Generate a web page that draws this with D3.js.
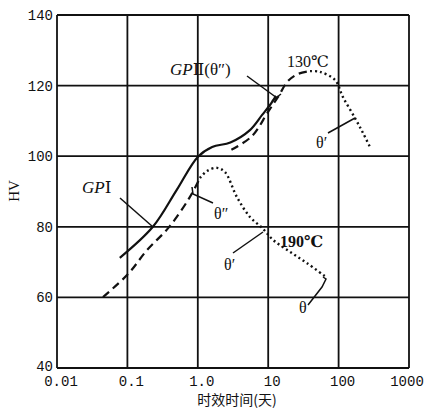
<!DOCTYPE html>
<html><head><meta charset="utf-8">
<script src="https://cdn.jsdelivr.net/npm/d3@7"></script>
<style>
body{margin:0;background:#fff;}
svg{display:block;}
</style></head>
<body>
<svg id="c" width="428" height="409"></svg>
<script>
// ---- data ----
const xTicks = [0.01, 0.1, 1, 10, 100, 1000];
const xTickLabels = ["0.01", "0.1", "1.0", "10", "100", "1000"];
const yTicks = [40, 60, 80, 100, 120, 140];
const yTickLabels = ["40", "60", "80", "100", "120", "140"];

// 130°C, GP I zone (solid)
const gp1_130 = [[0.078,71.2],[0.23,80],[0.5,90.4],[1.0,99.8],[1.6,102.6],[2.9,103.9],[5.5,107.4],[8.2,111.7],[10.6,114.5],[12.9,117.1]];
// 130°C, GP II (θ″) zone (dashed)
const gp2_130 = [[3.0,101.8],[5.9,105.7],[9.9,112.5],[13.8,116.8],[19.1,121.3],[26.5,123.3],[39.3,124.1]];
// 130°C, θ′ zone (dotted)
const th1_130 = [[39.3,124.1],[54,123.9],[89,121.6],[115,116.8],[171,110.8],[222,106.6],[279,102.6]];
// 190°C, GP zone (dashed)
const gp_190 = [[0.045,60.1],[0.102,66.6],[0.19,73.4],[0.39,79.9],[0.77,88.4],[1.07,93.8]];
// 190°C, θ″ → θ′ → θ (dotted)
const th_190 = [[1.07,93.8],[1.35,95.8],[1.87,96.7],[2.43,95.5],[3.6,88.4],[5.5,82.8],[8.2,79.7],[11.7,76.3],[20.4,72.9],[35.6,69.7],[66,65.8]];

// ---- chart ----
const svg = d3.select("#c");
const L = 57, R = 409, T = 15, B = 368;
const x = d3.scaleLog().domain([0.01, 1000]).range([L, R]);
const y = d3.scaleLinear().domain([40, 140]).range([B, T]);

// grid
const g = svg.append("g").attr("stroke", "#111").attr("stroke-width", 1.8);
xTicks.forEach(t => g.append("line").attr("x1", x(t)).attr("x2", x(t)).attr("y1", T).attr("y2", B));
yTicks.forEach(t => g.append("line").attr("x1", L).attr("x2", R).attr("y1", y(t)).attr("y2", y(t)));

// tick labels
const tickFont = "'Liberation Mono', 'DejaVu Sans Mono', monospace";
svg.append("g").selectAll("text").data(xTicks).join("text")
  .attr("x", (d, i) => i === xTicks.length - 1 ? 407 : x(d) + 4).attr("y", 386)
  .attr("text-anchor", "middle").attr("font-family", tickFont).attr("font-size", 14)
  .attr("fill", "#111")
  .text((d, i) => xTickLabels[i]);
svg.append("g").selectAll("text").data(yTicks).join("text")
  .attr("x", 53).attr("y", d => d === 40 ? y(d) + 3 : y(d) + 5)
  .attr("text-anchor", "end").attr("font-family", tickFont).attr("font-size", 14)
  .attr("fill", "#111")
  .text((d, i) => yTickLabels[i]);

// axis titles
svg.append("text").attr("transform", "translate(19,191) rotate(-90)")
  .attr("text-anchor", "middle").attr("font-family", "'Liberation Serif', serif").attr("font-size", 15)
  .attr("fill", "#111").text("HV");
svg.append("text").attr("x", 237).attr("y", 405)
  .attr("text-anchor", "middle").attr("font-family", "'Noto Sans CJK SC', sans-serif").attr("font-size", 14)
  .attr("fill", "#111").text("时效时间(天)");

// curves
const line = d3.line().x(d => x(d[0])).y(d => y(d[1])).curve(d3.curveCatmullRom.alpha(0.5));
const cg = svg.append("g").attr("fill", "none").attr("stroke", "#111");
cg.append("path").datum(gp1_130).attr("d", line).attr("stroke-width", 2.2);
cg.append("path").datum(gp2_130).attr("d", line).attr("stroke-width", 2.2).attr("stroke-dasharray", "8,5");
cg.append("path").datum(th1_130).attr("d", line).attr("stroke-width", 2.4).attr("stroke-dasharray", "2,3");
cg.append("path").datum(gp_190).attr("d", line).attr("stroke-width", 2.2).attr("stroke-dasharray", "8,5");
cg.append("path").datum(th_190).attr("d", line).attr("stroke-width", 2.4).attr("stroke-dasharray", "2,3");

// annotations (leaders)
const lg = svg.append("g").attr("fill", "none").attr("stroke", "#111").attr("stroke-width", 1.5);
lg.append("polyline").attr("points", "247,76 277,98");
lg.append("polyline").attr("points", "272,101 281,94");
lg.append("polyline").attr("points", "120,198 153,227");
lg.append("polyline").attr("points", "328,133 355,118");
lg.append("polyline").attr("points", "213,203 193,194 192,187");
lg.append("polyline").attr("points", "233,253 263,232");
lg.append("polyline").attr("points", "308,305 322,287 326,279 323,277");

const serif = "'Liberation Serif', 'DejaVu Serif', serif";
const a1 = svg.append("text").attr("x", 170).attr("y", 75).attr("font-family", serif).attr("font-size", 17).attr("fill", "#111");
a1.append("tspan").attr("font-style", "italic").text("GP");
a1.append("tspan").text("Ⅱ(θ″)");
const a2 = svg.append("text").attr("x", 82).attr("y", 193).attr("font-family", serif).attr("font-size", 17).attr("fill", "#111");
a2.append("tspan").attr("font-style", "italic").text("GP");
a2.append("tspan").text("Ⅰ");
svg.append("text").attr("x", 287).attr("y", 67).attr("font-family", serif).attr("font-size", 16).attr("fill", "#111").text("130℃");
svg.append("text").attr("x", 280).attr("y", 247).attr("font-family", serif).attr("font-size", 16).attr("font-weight", "bold").attr("fill", "#111").text("190℃");
svg.append("text").attr("x", 316).attr("y", 148).attr("font-family", serif).attr("font-size", 16).attr("fill", "#111").text("θ′");
svg.append("text").attr("x", 214).attr("y", 219).attr("font-family", serif).attr("font-size", 16).attr("fill", "#111").text("θ″");
svg.append("text").attr("x", 224).attr("y", 270).attr("font-family", serif).attr("font-size", 16).attr("fill", "#111").text("θ′");
svg.append("text").attr("x", 299).attr("y", 313).attr("font-family", serif).attr("font-size", 16).attr("fill", "#111").text("θ");
</script>
</body></html>
